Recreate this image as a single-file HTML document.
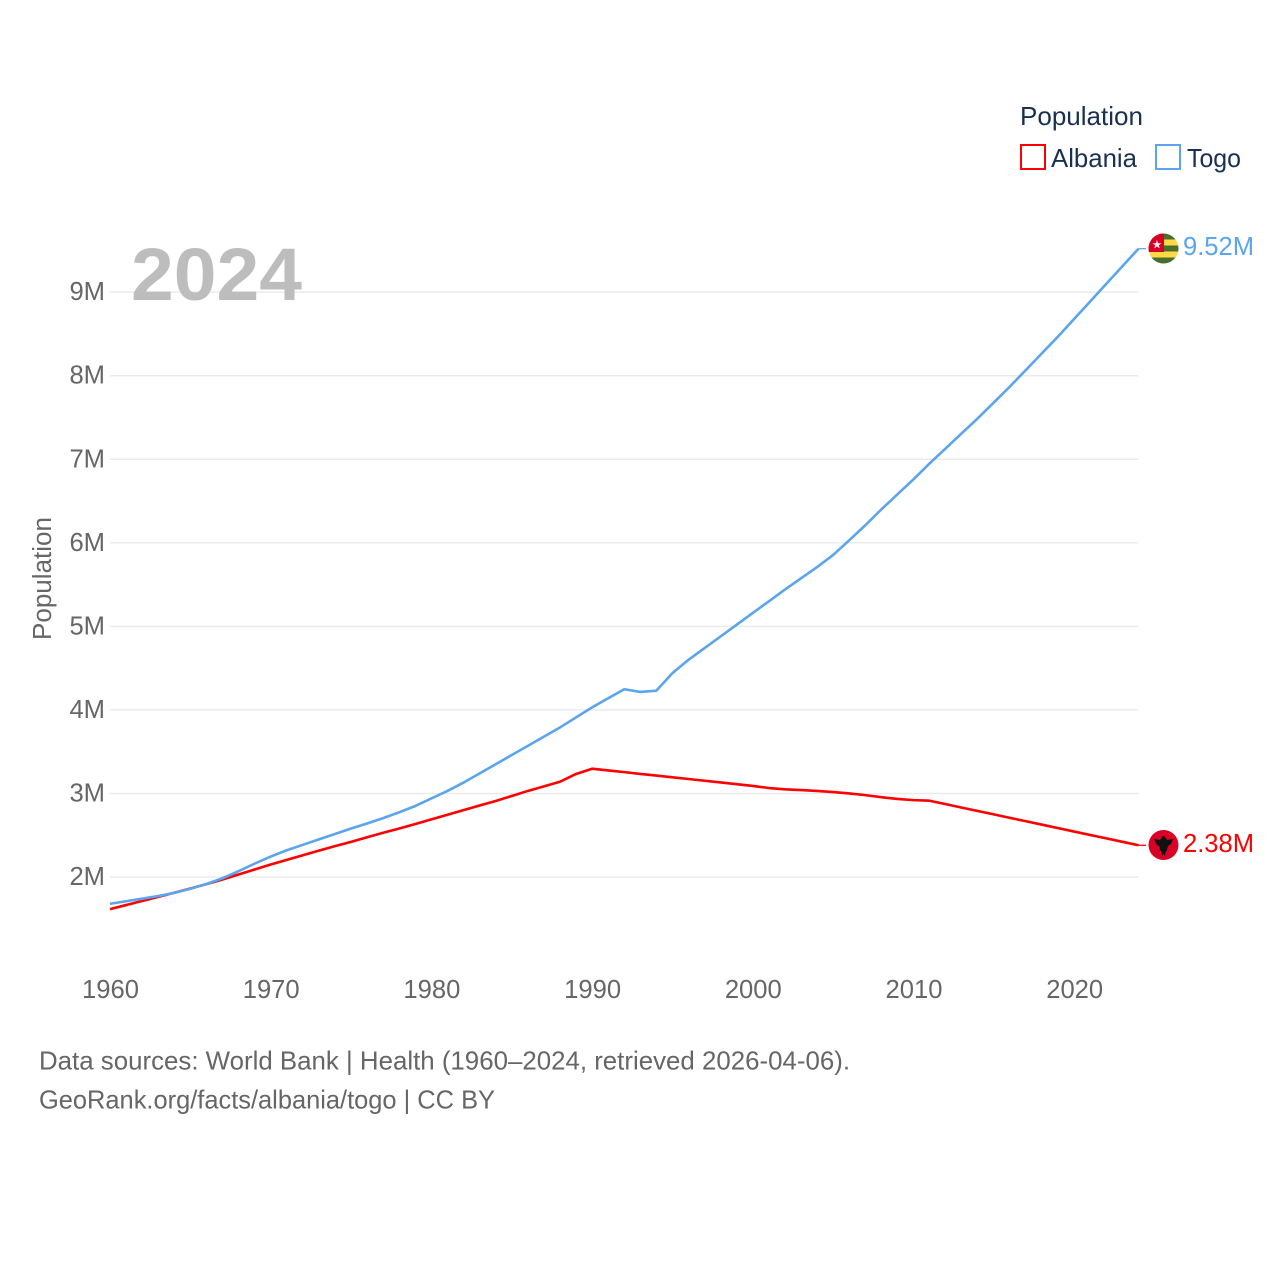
<!DOCTYPE html>
<html lang="en">
<head>
<meta charset="utf-8">
<title>Population: Albania vs Togo</title>
<style>
html,body{margin:0;padding:0;background:#fff;}
svg{display:block;font-family:"Liberation Sans",sans-serif;}
</style>
</head>
<body>
<svg id="chart" xmlns="http://www.w3.org/2000/svg" width="1280" height="1280" viewBox="0 0 1280 1280">
  <rect width="1280" height="1280" fill="#fff"/>
  <g id="grid"></g>
  <g id="yticks"></g>
  <g id="xticks"></g>
  <text x="131" y="300" font-size="74" font-weight="700" fill="#bdbdbd" textLength="171" lengthAdjust="spacingAndGlyphs">2024</text>
  <text transform="translate(51,640) rotate(-90)" font-size="25.5" fill="#666" textLength="123" lengthAdjust="spacingAndGlyphs">Population</text>
  <g id="series"></g>

  <g>
    <clipPath id="togo-clip"><circle cx="1163.5" cy="248.5" r="15"/></clipPath>
    <g clip-path="url(#togo-clip)">
      <rect x="1148" y="233" width="32" height="6.5" fill="#496e2d"/>
      <rect x="1148" y="239.5" width="32" height="6" fill="#ffda44"/>
      <rect x="1148" y="245.5" width="32" height="6" fill="#496e2d"/>
      <rect x="1148" y="251.5" width="32" height="6" fill="#ffda44"/>
      <rect x="1148" y="257.5" width="32" height="6.5" fill="#496e2d"/>
      <rect x="1148" y="233" width="16" height="19" fill="#d80027"/>
      <polygon points="1157,240 1158.1,243.2 1161.4,243.2 1158.8,245.2 1159.8,248.4 1157,246.5 1154.2,248.4 1155.2,245.2 1152.6,243.2 1155.9,243.2" fill="#f0f0f0"/>
    </g>
  </g>
  <g>
    <circle cx="1163.5" cy="845" r="15" fill="#d80027"/>
    <polygon points="1154,839 1160,840 1162,837 1163.5,835.5 1165,837 1167,840 1173,839 1171,844 1168,846 1167,850 1165.5,852 1165,856 1163.5,853.5 1162,856 1161.5,852 1160,850 1159,846 1156,844" fill="#111"/>
  </g>

  <text id="label-togo" x="1183" y="255" font-size="25.5" fill="#5ba4ee" textLength="71" lengthAdjust="spacingAndGlyphs">9.52M</text>
  <text id="label-albania" x="1183" y="852" font-size="25.5" fill="#ff0000" textLength="71" lengthAdjust="spacingAndGlyphs">2.38M</text>

  <g>
    <text x="1020" y="125" font-size="26" fill="#1a3050" textLength="123" lengthAdjust="spacingAndGlyphs">Population</text>
    <rect x="1021" y="145" width="24" height="24" fill="none" stroke="#ff0000" stroke-width="2"/>
    <text x="1051" y="167" font-size="26" fill="#1a3050" textLength="86" lengthAdjust="spacingAndGlyphs">Albania</text>
    <rect x="1156" y="145" width="24" height="24" fill="none" stroke="#5ba4ee" stroke-width="2"/>
    <text x="1187" y="167" font-size="26" fill="#1a3050" textLength="54" lengthAdjust="spacingAndGlyphs">Togo</text>
  </g>

  <text x="39" y="1069.5" font-size="26" fill="#666" textLength="811" lengthAdjust="spacingAndGlyphs">Data sources: World Bank | Health (1960–2024, retrieved 2026-04-06).</text>
  <text x="39" y="1108.5" font-size="26" fill="#666" textLength="456" lengthAdjust="spacingAndGlyphs">GeoRank.org/facts/albania/togo | CC BY</text>
</svg>
<script>
const years = [1960,1961,1962,1963,1964,1965,1966,1967,1968,1969,1970,1971,1972,1973,1974,1975,1976,1977,1978,1979,1980,1981,1982,1983,1984,1985,1986,1987,1988,1989,1990,1991,1992,1993,1994,1995,1996,1997,1998,1999,2000,2001,2002,2003,2004,2005,2006,2007,2008,2009,2010,2011,2012,2013,2014,2015,2016,2017,2018,2019,2020,2021,2022,2023,2024];
const albaniaValues = [1.615,1.664,1.713,1.762,1.811,1.863,1.915,1.97,2.03,2.09,2.15,2.205,2.26,2.315,2.37,2.42,2.475,2.53,2.58,2.635,2.69,2.745,2.80,2.855,2.91,2.97,3.03,3.085,3.14,3.233,3.296,3.275,3.255,3.234,3.214,3.193,3.173,3.152,3.132,3.111,3.09,3.065,3.05,3.04,3.03,3.017,3.0,2.98,2.955,2.934,2.92,2.913,2.872,2.83,2.79,2.75,2.708,2.667,2.626,2.585,2.544,2.503,2.462,2.421,2.38];
const togoValues = [1.68,1.71,1.74,1.772,1.81,1.86,1.916,1.985,2.07,2.16,2.245,2.32,2.385,2.45,2.515,2.58,2.64,2.705,2.775,2.85,2.94,3.03,3.13,3.24,3.35,3.46,3.57,3.68,3.79,3.91,4.03,4.14,4.247,4.215,4.23,4.44,4.60,4.74,4.88,5.02,5.16,5.30,5.44,5.575,5.71,5.855,6.03,6.21,6.40,6.58,6.76,6.95,7.13,7.31,7.49,7.68,7.87,8.07,8.27,8.47,8.68,8.89,9.10,9.31,9.52];
const yTickValues = [2,3,4,5,6,7,8,9];
const yTickLabels = ["2M","3M","4M","5M","6M","7M","8M","9M"];
const xTickValues = [1960,1970,1980,1990,2000,2010,2020];

const NS = "http://www.w3.org/2000/svg";
const xScale = (yr) => 110 + (yr - 1960) * 16.07;
const yScale = (v) => 877 - (v - 2) * 83.55;
const make = (tag, parent) => {
  const el = document.createElementNS(NS, tag);
  parent.appendChild(el);
  return el;
};

const grid = document.getElementById("grid");
const yticks = document.getElementById("yticks");
const xticks = document.getElementById("xticks");
const series = document.getElementById("series");

yTickValues.forEach((v, i) => {
  const line = make("line", grid);
  
  
  line.setAttribute("x1", 110);
  line.setAttribute("x2", 1138.5);
  line.setAttribute("y1", yScale(v));
  line.setAttribute("y2", yScale(v));
  line.setAttribute("stroke", "#ebebeb");
  line.setAttribute("stroke-width", 1.5);

  const label = make("text", yticks);
  
  
  label.setAttribute("x", 105);
  label.setAttribute("y", yScale(v) + 8);
  label.setAttribute("text-anchor", "end");
  label.setAttribute("font-size", 25.6);
  label.setAttribute("fill", "#666");
  label.textContent = yTickLabels[i];
});

xTickValues.forEach((yr) => {
  const label = make("text", xticks);
  
  
  label.setAttribute("x", xScale(yr) + 0.5);
  label.setAttribute("y", 998);
  label.setAttribute("text-anchor", "middle");
  label.setAttribute("font-size", 25.6);
  label.setAttribute("fill", "#666");
  label.textContent = String(yr);
});

const drawSeries = (values, color, lineName, leaderName) => {
  const path = make("path", series);
  
  
  path.setAttribute("d", values.map((v, i) => (i ? "L" : "M") + xScale(years[i]).toFixed(2) + " " + yScale(v).toFixed(2)).join(" "));
  path.setAttribute("fill", "none");
  path.setAttribute("stroke", color);
  path.setAttribute("stroke-width", 2.6);
  path.setAttribute("stroke-linejoin", "round");

  const last = values[values.length - 1];
  const leader = make("line", series);
  
  
  leader.setAttribute("x1", xScale(years[years.length - 1]));
  leader.setAttribute("x2", 1146);
  leader.setAttribute("y1", yScale(last));
  leader.setAttribute("y2", yScale(last));
  leader.setAttribute("stroke", color);
  leader.setAttribute("stroke-width", 1.3);
};

drawSeries(albaniaValues, "#ff0000", "albania-line", "albania-leader-line");
drawSeries(togoValues, "#5ba4ee", "togo-line", "togo-leader-line");
</script>
</body>
</html>
